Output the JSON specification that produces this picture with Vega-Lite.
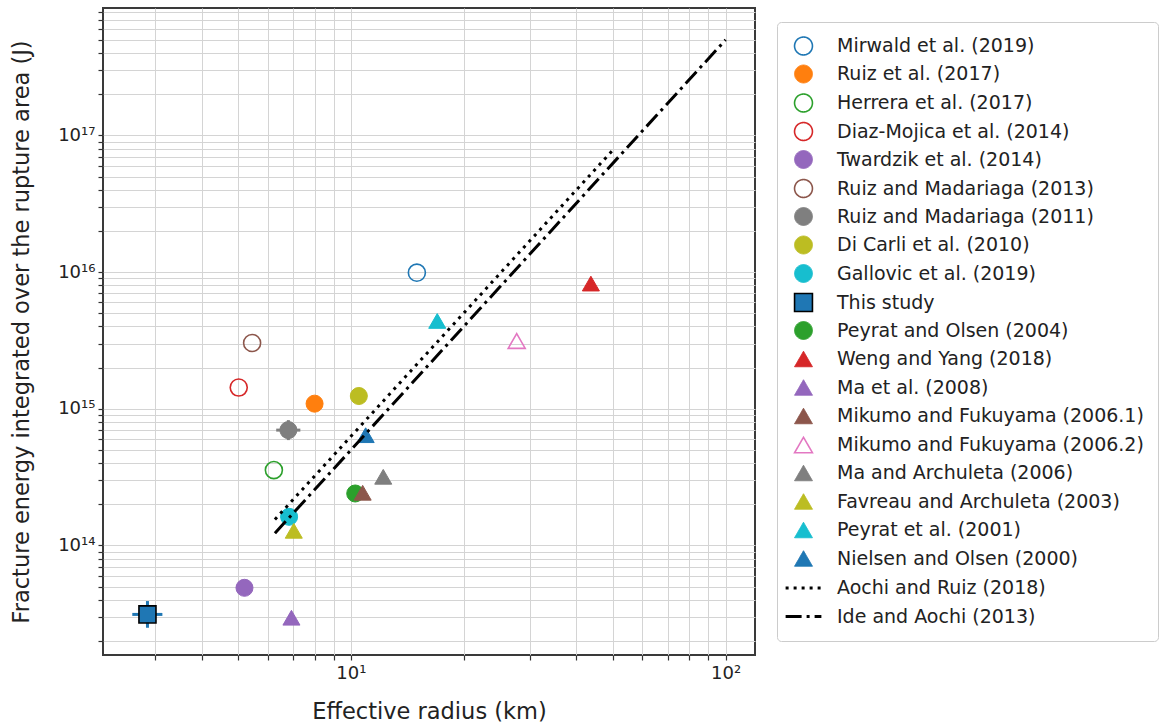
{
  "$schema": "https://vega.github.io/schema/vega-lite/v6.json",
  "width": 652,
  "height": 647,
  "autosize": {"type": "none"},
  "padding": {"left": 103, "top": 8, "right": 407, "bottom": 71},
  "config": {
    "font": "DejaVu Sans",
    "view": {"stroke": "#3a3a3a", "strokeWidth": 2},
    "axis": {
      "grid": true, "gridColor": "#d4d4d4", "gridWidth": 1, "domain": false,
      "tickColor": "#333333", "tickSize": 5, "tickWidth": 1.2,
      "labelFont": "DejaVu Sans", "labelFontSize": 18, "labelColor": "#222222",
      "titleFont": "DejaVu Sans", "titleFontSize": 22.5, "titleFontWeight": "normal", "titleColor": "#222222",
      "labelOverlap": false, "labelFlush": false
    },
    "legend": {
      "padding": 14, "strokeColor": "#cccccc", "fillColor": "white", "cornerRadius": 4,
      "labelFont": "DejaVu Sans", "labelFontSize": 19, "labelColor": "#222222",
      "symbolSize": 320, "symbolOffset": 2, "labelOffset": 23, "rowPadding": 2.5, "gridAlign": "all",
      "labelLimit": 500, "symbolLimit": 50
    }
  },
  "datasets": {
    "points": [
      {"study": "Mirwald et al. (2019)", "x": 15.0, "y": 9.9e15},
      {"study": "Ruiz et al. (2017)", "x": 8.0, "y": 1.09e15},
      {"study": "Herrera et al. (2017)", "x": 6.23, "y": 3.56e14},
      {"study": "Diaz-Mojica et al. (2014)", "x": 5.02, "y": 1.43e15},
      {"study": "Twardzik et al. (2014)", "x": 5.2, "y": 4.9e13},
      {"study": "Ruiz and Madariaga (2013)", "x": 5.45, "y": 3.03e15},
      {"study": "Ruiz and Madariaga (2011)", "x": 6.81, "y": 6.98e14},
      {"study": "Di Carli et al. (2010)", "x": 10.5, "y": 1.24e15},
      {"study": "Gallovic et al. (2019)", "x": 6.84, "y": 1.62e14},
      {"study": "This study", "x": 2.865, "y": 3.13e13},
      {"study": "Peyrat and Olsen (2004)", "x": 10.27, "y": 2.4e14},
      {"study": "Weng and Yang (2018)", "x": 43.7, "y": 8.24e15},
      {"study": "Ma et al. (2008)", "x": 6.94, "y": 2.96e13},
      {"study": "Mikumo and Fukuyama (2006.1)", "x": 10.75, "y": 2.43e14},
      {"study": "Mikumo and Fukuyama (2006.2)", "x": 27.7, "y": 3.13e15},
      {"study": "Ma and Archuleta (2006)", "x": 12.2, "y": 3.18e14},
      {"study": "Favreau and Archuleta (2003)", "x": 7.04, "y": 1.28e14},
      {"study": "Peyrat et al. (2001)", "x": 17.0, "y": 4.39e15},
      {"study": "Nielsen and Olsen (2000)", "x": 10.95, "y": 6.41e14}
    ],
    "errors": [
      {"study": "This study", "x": 2.865, "y": 3.13e13, "xlo": 2.61, "xhi": 3.14, "ylo": 2.5e13, "yhi": 3.92e13},
      {"study": "Ruiz and Madariaga (2011)", "x": 6.81, "y": 6.98e14, "xlo": 6.32, "xhi": 7.33, "ylo": 5.9e14, "yhi": 8.26e14}
    ],
    "lines": [
      {"study": "Aochi and Ruiz (2018)", "x": 6.27, "y": 1.55e14},
      {"study": "Aochi and Ruiz (2018)", "x": 50, "y": 7.8e16},
      {"study": "Ide and Aochi (2013)", "x": 6.27, "y": 1.23e14},
      {"study": "Ide and Aochi (2013)", "x": 100, "y": 5.0e17}
    ]
  },
  "encoding": {
    "x": {
      "field": "x", "type": "quantitative",
      "scale": {"type": "log", "domain": [2.18, 119.8], "nice": false},
      "axis": {
        "values": [3, 4, 5, 6, 7, 8, 9, 10, 20, 30, 40, 50, 60, 70, 80, 90, 100],
        "labelExpr": "datum.value == 10 ? '10\u00b9' : datum.value == 100 ? '10\u00b2' : ''",
        "title": "Effective radius (km)", "titlePadding": 18, "labelPadding": 4
      }
    },
    "y": {
      "field": "y", "type": "quantitative",
      "scale": {"type": "log", "domain": [1.58e13, 8.55e17], "nice": false},
      "axis": {
        "values": [2e13, 3e13, 4e13, 5e13, 6e13, 7e13, 8e13, 9e13, 1e14, 2e14, 3e14, 4e14, 5e14, 6e14, 7e14, 8e14, 9e14, 1e15, 2e15, 3e15, 4e15, 5e15, 6e15, 7e15, 8e15, 9e15, 1e16, 2e16, 3e16, 4e16, 5e16, 6e16, 7e16, 8e16, 9e16, 1e17, 2e17, 3e17, 4e17, 5e17, 6e17, 7e17, 8e17],
        "labelExpr": "datum.value == 1e14 ? '10\u00b9\u2074' : datum.value == 1e15 ? '10\u00b9\u2075' : datum.value == 1e16 ? '10\u00b9\u2076' : datum.value == 1e17 ? '10\u00b9\u2077' : ''",
        "title": "Fracture energy integrated over the rupture area (J)", "titlePadding": 24, "labelPadding": 3
      }
    }
  },
  "layer": [
    {
      "data": {"name": "errors"},
      "transform": [{"filter": "datum.study == 'This study'"}],
      "layer": [
        {"mark": {"type": "rule", "color": "#1f77b4", "strokeWidth": 3}, "encoding": {"x": {"field": "xlo", "type": "quantitative"}, "x2": {"field": "xhi"}}},
        {"mark": {"type": "rule", "color": "#1f77b4", "strokeWidth": 3}, "encoding": {"y": {"field": "ylo", "type": "quantitative"}, "y2": {"field": "yhi"}}}
      ]
    },
    {
      "data": {"name": "errors"},
      "transform": [{"filter": "datum.study != 'This study'"}],
      "layer": [
        {"mark": {"type": "rule", "color": "#7f7f7f", "strokeWidth": 3}, "encoding": {"x": {"field": "xlo", "type": "quantitative"}, "x2": {"field": "xhi"}}},
        {"mark": {"type": "rule", "color": "#7f7f7f", "strokeWidth": 3}, "encoding": {"y": {"field": "ylo", "type": "quantitative"}, "y2": {"field": "yhi"}}}
      ]
    },
    {
      "data": {"name": "points"},
      "mark": {"type": "point", "opacity": 1, "size": 290},
      "encoding": {
        "shape": {
          "field": "study", "type": "nominal",
          "scale": {
            "domain": ["Mirwald et al. (2019)", "Ruiz et al. (2017)", "Herrera et al. (2017)", "Diaz-Mojica et al. (2014)", "Twardzik et al. (2014)", "Ruiz and Madariaga (2013)", "Ruiz and Madariaga (2011)", "Di Carli et al. (2010)", "Gallovic et al. (2019)", "This study", "Peyrat and Olsen (2004)", "Weng and Yang (2018)", "Ma et al. (2008)", "Mikumo and Fukuyama (2006.1)", "Mikumo and Fukuyama (2006.2)", "Ma and Archuleta (2006)", "Favreau and Archuleta (2003)", "Peyrat et al. (2001)", "Nielsen and Olsen (2000)", "Aochi and Ruiz (2018)", "Ide and Aochi (2013)"],
            "range": ["circle", "circle", "circle", "circle", "circle", "circle", "circle", "circle", "circle", "square", "circle", "triangle-up", "triangle-up", "triangle-up", "triangle-up", "triangle-up", "triangle-up", "triangle-up", "triangle-up", "M-2,0L2,0", "M-2,0L2,0"]
          },
          "legend": {"title": null, "orient": "none", "legendX": 674, "legendY": 14}
        },
        "fill": {
          "field": "study", "type": "nominal",
          "scale": {
            "domain": ["Mirwald et al. (2019)", "Ruiz et al. (2017)", "Herrera et al. (2017)", "Diaz-Mojica et al. (2014)", "Twardzik et al. (2014)", "Ruiz and Madariaga (2013)", "Ruiz and Madariaga (2011)", "Di Carli et al. (2010)", "Gallovic et al. (2019)", "This study", "Peyrat and Olsen (2004)", "Weng and Yang (2018)", "Ma et al. (2008)", "Mikumo and Fukuyama (2006.1)", "Mikumo and Fukuyama (2006.2)", "Ma and Archuleta (2006)", "Favreau and Archuleta (2003)", "Peyrat et al. (2001)", "Nielsen and Olsen (2000)", "Aochi and Ruiz (2018)", "Ide and Aochi (2013)"],
            "range": ["transparent", "#ff7f0e", "transparent", "transparent", "#9467bd", "transparent", "#7f7f7f", "#bcbd22", "#17becf", "#1f77b4", "#2ca02c", "#d62728", "#9467bd", "#8c564b", "transparent", "#7f7f7f", "#bcbd22", "#17becf", "#1f77b4", "transparent", "transparent"]
          },
          "legend": {"title": null, "orient": "none", "legendX": 674, "legendY": 14}
        },
        "stroke": {
          "field": "study", "type": "nominal",
          "scale": {
            "domain": ["Mirwald et al. (2019)", "Ruiz et al. (2017)", "Herrera et al. (2017)", "Diaz-Mojica et al. (2014)", "Twardzik et al. (2014)", "Ruiz and Madariaga (2013)", "Ruiz and Madariaga (2011)", "Di Carli et al. (2010)", "Gallovic et al. (2019)", "This study", "Peyrat and Olsen (2004)", "Weng and Yang (2018)", "Ma et al. (2008)", "Mikumo and Fukuyama (2006.1)", "Mikumo and Fukuyama (2006.2)", "Ma and Archuleta (2006)", "Favreau and Archuleta (2003)", "Peyrat et al. (2001)", "Nielsen and Olsen (2000)", "Aochi and Ruiz (2018)", "Ide and Aochi (2013)"],
            "range": ["#1f77b4", "#ff7f0e", "#2ca02c", "#d62728", "#9467bd", "#8c564b", "#7f7f7f", "#bcbd22", "#17becf", "#000000", "#2ca02c", "#d62728", "#9467bd", "#8c564b", "#e377c2", "#7f7f7f", "#bcbd22", "#17becf", "#1f77b4", "#000000", "#000000"]
          },
          "legend": {"title": null, "orient": "none", "legendX": 674, "legendY": 14}
        },
        "strokeWidth": {
          "field": "study", "type": "nominal",
          "scale": {
            "type": "ordinal",
            "domain": ["Mirwald et al. (2019)", "Ruiz et al. (2017)", "Herrera et al. (2017)", "Diaz-Mojica et al. (2014)", "Twardzik et al. (2014)", "Ruiz and Madariaga (2013)", "Ruiz and Madariaga (2011)", "Di Carli et al. (2010)", "Gallovic et al. (2019)", "This study", "Peyrat and Olsen (2004)", "Weng and Yang (2018)", "Ma et al. (2008)", "Mikumo and Fukuyama (2006.1)", "Mikumo and Fukuyama (2006.2)", "Ma and Archuleta (2006)", "Favreau and Archuleta (2003)", "Peyrat et al. (2001)", "Nielsen and Olsen (2000)", "Aochi and Ruiz (2018)", "Ide and Aochi (2013)"],
            "range": [1.6, 1, 1.6, 1.6, 1, 1.6, 1, 1, 1, 1.6, 1, 1, 1, 1, 1.6, 1, 1, 1, 1, 3, 3]
          },
          "legend": {"title": null, "orient": "none", "legendX": 674, "legendY": 14}
        }
      }
    },
    {
      "data": {"name": "lines"},
      "mark": {"type": "line"},
      "encoding": {
        "detail": {"field": "study", "type": "nominal"},
        "stroke": {
          "field": "study", "type": "nominal",
          "scale": {
            "domain": ["Mirwald et al. (2019)", "Ruiz et al. (2017)", "Herrera et al. (2017)", "Diaz-Mojica et al. (2014)", "Twardzik et al. (2014)", "Ruiz and Madariaga (2013)", "Ruiz and Madariaga (2011)", "Di Carli et al. (2010)", "Gallovic et al. (2019)", "This study", "Peyrat and Olsen (2004)", "Weng and Yang (2018)", "Ma et al. (2008)", "Mikumo and Fukuyama (2006.1)", "Mikumo and Fukuyama (2006.2)", "Ma and Archuleta (2006)", "Favreau and Archuleta (2003)", "Peyrat et al. (2001)", "Nielsen and Olsen (2000)", "Aochi and Ruiz (2018)", "Ide and Aochi (2013)"],
            "range": ["#1f77b4", "#ff7f0e", "#2ca02c", "#d62728", "#9467bd", "#8c564b", "#7f7f7f", "#bcbd22", "#17becf", "#000000", "#2ca02c", "#d62728", "#9467bd", "#8c564b", "#e377c2", "#7f7f7f", "#bcbd22", "#17becf", "#1f77b4", "#000000", "#000000"]
          },
          "legend": {"title": null, "orient": "none", "legendX": 674, "legendY": 14}
        },
        "strokeWidth": {
          "field": "study", "type": "nominal",
          "scale": {
            "type": "ordinal",
            "domain": ["Mirwald et al. (2019)", "Ruiz et al. (2017)", "Herrera et al. (2017)", "Diaz-Mojica et al. (2014)", "Twardzik et al. (2014)", "Ruiz and Madariaga (2013)", "Ruiz and Madariaga (2011)", "Di Carli et al. (2010)", "Gallovic et al. (2019)", "This study", "Peyrat and Olsen (2004)", "Weng and Yang (2018)", "Ma et al. (2008)", "Mikumo and Fukuyama (2006.1)", "Mikumo and Fukuyama (2006.2)", "Ma and Archuleta (2006)", "Favreau and Archuleta (2003)", "Peyrat et al. (2001)", "Nielsen and Olsen (2000)", "Aochi and Ruiz (2018)", "Ide and Aochi (2013)"],
            "range": [1.6, 1, 1.6, 1.6, 1, 1.6, 1, 1, 1, 1.6, 1, 1, 1, 1, 1.6, 1, 1, 1, 1, 3, 3]
          },
          "legend": {"title": null, "orient": "none", "legendX": 674, "legendY": 14}
        },
        "strokeDash": {
          "field": "study", "type": "nominal",
          "scale": {
            "domain": ["Mirwald et al. (2019)", "Ruiz et al. (2017)", "Herrera et al. (2017)", "Diaz-Mojica et al. (2014)", "Twardzik et al. (2014)", "Ruiz and Madariaga (2013)", "Ruiz and Madariaga (2011)", "Di Carli et al. (2010)", "Gallovic et al. (2019)", "This study", "Peyrat and Olsen (2004)", "Weng and Yang (2018)", "Ma et al. (2008)", "Mikumo and Fukuyama (2006.1)", "Mikumo and Fukuyama (2006.2)", "Ma and Archuleta (2006)", "Favreau and Archuleta (2003)", "Peyrat et al. (2001)", "Nielsen and Olsen (2000)", "Aochi and Ruiz (2018)", "Ide and Aochi (2013)"],
            "range": [[1, 0], [1, 0], [1, 0], [1, 0], [1, 0], [1, 0], [1, 0], [1, 0], [1, 0], [1, 0], [1, 0], [1, 0], [1, 0], [1, 0], [1, 0], [1, 0], [1, 0], [1, 0], [1, 0], [3, 5], [16, 5, 3, 5]]
          },
          "legend": {"title": null, "orient": "none", "legendX": 674, "legendY": 14}
        }
      }
    }
  ]
}
